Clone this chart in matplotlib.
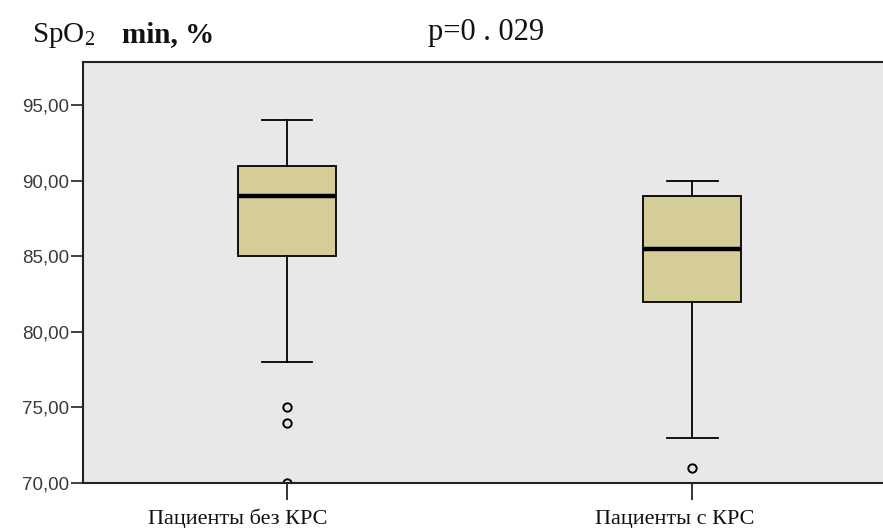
import matplotlib
matplotlib.use("Agg")
import matplotlib.pyplot as plt
from matplotlib import transforms

plt.rcParams["mathtext.fontset"] = "stix"

# summary statistics for each group
groups = ["Пациенты без КРС", "Пациенты с КРС"]
medians = [89.0, 85.5]
q1 = [85.0, 82.0]
q3 = [91.0, 89.0]
whis_low = [78.0, 73.0]
whis_high = [94.0, 90.0]
outliers = [[75.0, 74.0, 70.0], [71.0]]

y_ticks = [70, 75, 80, 85, 90, 95]
tick_labels = ["70,00", "75,00", "80,00", "85,00", "90,00", "95,00"]

box_color = "#d4cd98"
panel_color = "#e8e8e8"

stats = []
for i, name in enumerate(groups):
    stats.append(dict(label=name, med=medians[i], q1=q1[i], q3=q3[i],
                      whislo=whis_low[i], whishi=whis_high[i],
                      fliers=outliers[i]))

fig = plt.figure(figsize=(8.83, 5.28), dpi=100)
ax = fig.add_axes([83 / 883, 45 / 528, 812 / 883, 421 / 528])
ax.set_facecolor(panel_color)

positions = list(range(1, len(groups) + 1))
ax.bxp(stats, positions=positions, widths=0.242, patch_artist=True,
       boxprops=dict(facecolor=box_color, edgecolor="black", linewidth=1.3),
       medianprops=dict(color="black", linewidth=3.2),
       whiskerprops=dict(color="black", linewidth=1.3),
       capprops=dict(color="black", linewidth=1.3),
       capwidths=0.125,
       flierprops=dict(marker="o", markersize=6, markerfacecolor="none",
                       markeredgecolor="black", markeredgewidth=1.4))

ax.set_xlim(0.497, 2.5)
ax.set_ylim(70, 97.85)
ax.set_yticks(y_ticks)
ax.set_yticklabels(tick_labels, family="Liberation Sans", fontsize=13.5,
                   color="#3a3a3a")
ax.tick_params(axis="y", length=9, width=1.3, color="#333333", pad=1)
ax.set_xticks(positions)
ax.set_xticklabels([])
ax.tick_params(axis="x", length=12, width=1.1, color="black", direction="out")

for side in ["left", "bottom", "top"]:
    ax.spines[side].set_linewidth(1.5)
    ax.spines[side].set_color("#222222")
ax.spines["right"].set_visible(False)

# group names under the ticks, set slightly left of each tick
label_shift = [-49, -18]
for pos, name, dx in zip(positions, groups, label_shift):
    off = transforms.offset_copy(ax.get_xaxis_transform(), fig=fig,
                                 x=dx, y=-41, units="dots")
    ax.text(pos, 0, name, transform=off, ha="center", va="baseline",
            family="Liberation Serif", fontsize=16, color="#111111")

fig.text(32 / 883, 1 - 42 / 528, r"SpO$_{\mathregular{2}}$",
         family="Liberation Serif", fontsize=21, va="baseline", ha="left",
         color="#111111")
fig.text(122 / 883, 1 - 42 / 528, "min, %", family="Liberation Serif",
         fontsize=21, fontweight="bold", va="baseline", ha="left",
         color="#111111")
fig.text(428 / 883, 1 - 40 / 528, "p=0 . 029", family="Liberation Serif",
         fontsize=22, va="baseline", ha="left", color="#111111")

fig.savefig("out.png", dpi=100)
